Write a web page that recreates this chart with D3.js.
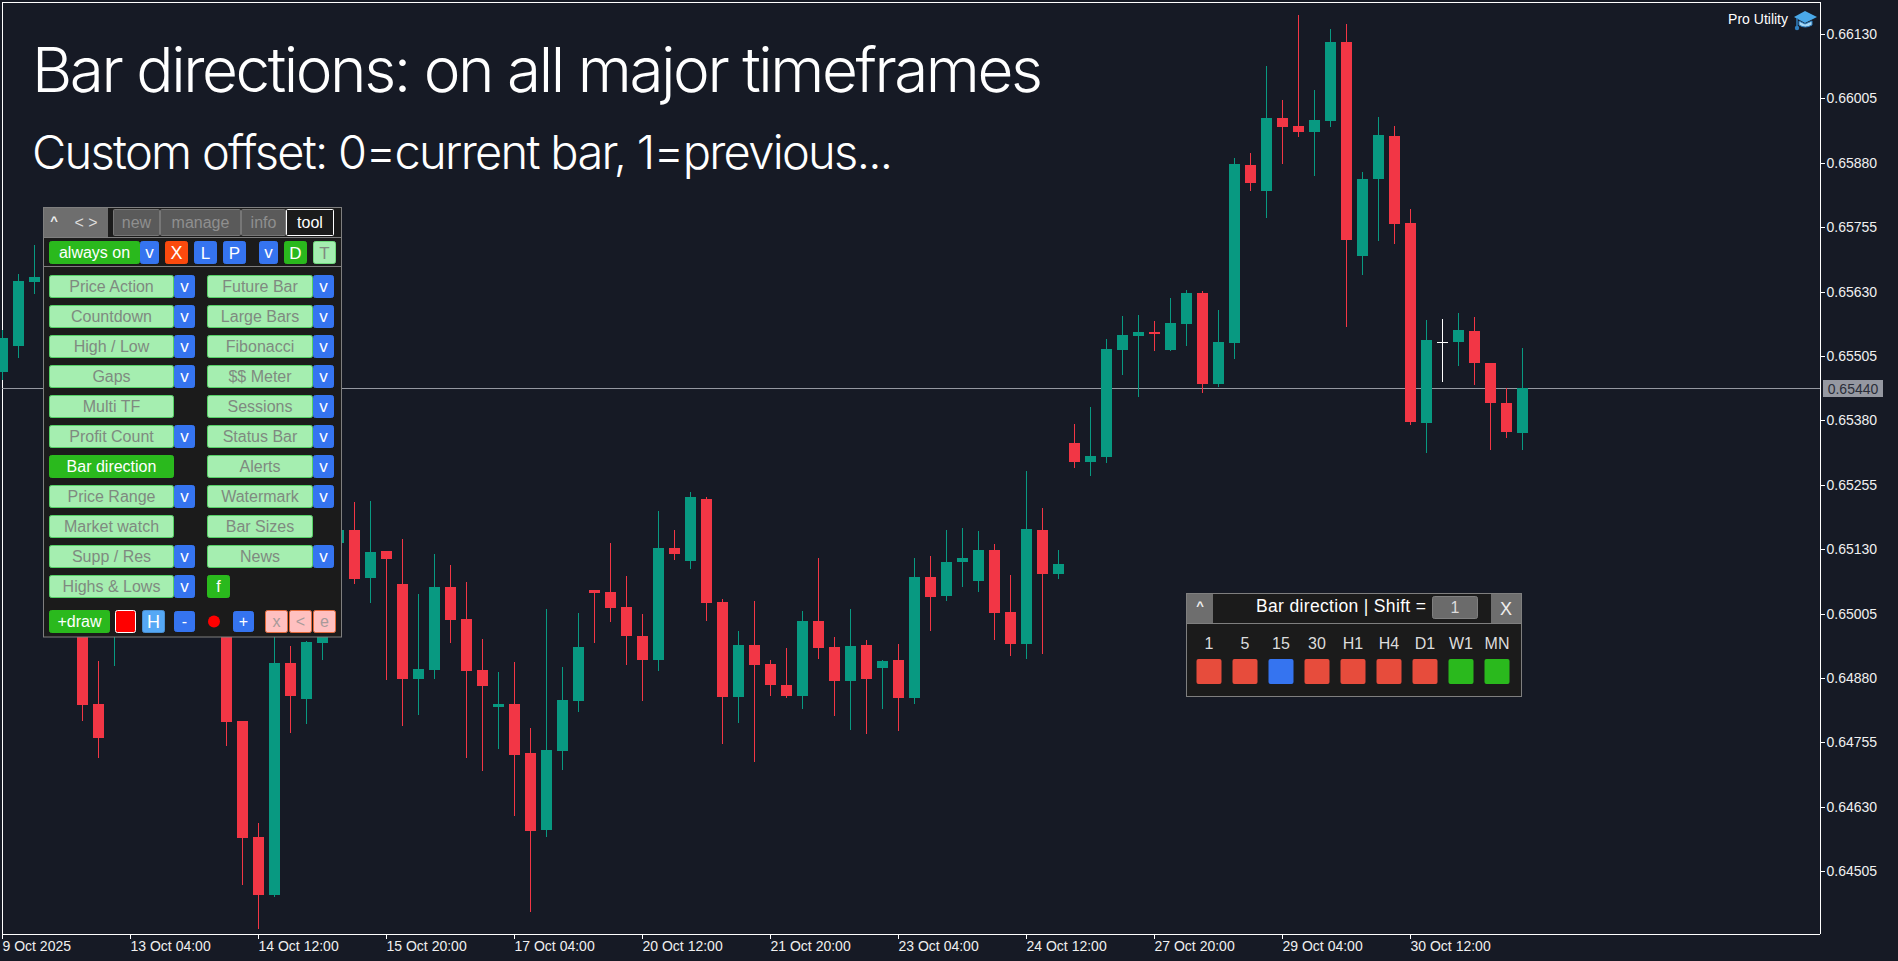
<!DOCTYPE html>
<html>
<head>
<meta charset="utf-8">
<title>Bar directions</title>
<script src="https://cdn.jsdelivr.net/npm/d3@7"></script>
<style>
  html, body { margin: 0; padding: 0; background: #161a25; overflow: hidden; }
  svg { display: block; }
  text { font-family: "Liberation Sans", Arial, sans-serif; }
  .axis path, .axis line { stroke: #fff; shape-rendering: crispEdges; }
  .axis text { fill: #f0f0f0; font-size: 14px; font-family: "Liberation Sans", Arial, sans-serif; }
</style>
</head>
<body>
<svg id="chart" width="1898" height="961"></svg>
<script>
// candles, oldest first. bars 3-14 and 20-21 sit mostly behind the tool panel, so those are guesses
const opens = [0.65474,0.65524,0.65649,0.65643,0.65420,0.65187,0.64830,0.64983,0.65109,0.65226,0.65342,0.65342,0.65420,0.65284,0.65109,0.64797,
0.64571,0.64459,0.64909,0.64839,0.64948,0.65142,0.65167,0.65074,0.65126,0.65062,0.64878,0.64895,0.65057,0.64994,0.64895,0.64824,
0.64830,0.64734,0.64585,0.64738,0.64835,0.65051,0.65047,0.65018,0.64961,0.64915,0.65132,0.65107,0.65227,0.65028,0.64843,0.64944,
0.64907,0.64866,0.64845,0.64991,0.64940,0.64874,0.64944,0.64899,0.64915,0.64841,0.65076,0.65039,0.65105,0.65068,0.65128,0.65008,
0.64946,0.65167,0.65082,0.65336,0.65299,0.65309,0.65517,0.65544,0.65552,0.65517,0.65567,0.65627,0.65451,0.65530,0.65876,0.65825,
0.65967,0.65951,0.65940,0.65961,0.66114,0.65699,0.65849,0.65932,0.65763,0.65375,0.65533,0.65532,0.65553,0.65491,0.65414,0.65355];
const highs = [0.65555,0.65664,0.65720,0.65672,0.65439,0.65226,0.64913,0.65148,0.65264,0.65381,0.65361,0.65458,0.65439,0.65303,0.65148,0.64797,
0.64599,0.64983,0.64942,0.64952,0.65031,0.65264,0.65222,0.65224,0.65126,0.65150,0.65043,0.65121,0.65099,0.65066,0.64956,0.64892,
0.64911,0.64783,0.65014,0.64901,0.65006,0.65051,0.65142,0.65078,0.65004,0.65204,0.65167,0.65241,0.65231,0.65033,0.64971,0.65029,
0.64915,0.64938,0.65010,0.65113,0.64960,0.65014,0.64954,0.64915,0.64946,0.65113,0.65117,0.65167,0.65171,0.65165,0.65140,0.65080,
0.65282,0.65210,0.65128,0.65373,0.65406,0.65538,0.65583,0.65585,0.65573,0.65618,0.65633,0.65631,0.65594,0.65889,0.65899,0.66068,
0.66002,0.66167,0.66021,0.66140,0.66149,0.65862,0.65969,0.65951,0.65790,0.65575,0.65577,0.65588,0.65581,0.65491,0.65443,0.65520];
const lows = [0.65458,0.65501,0.65625,0.65381,0.65148,0.64796,0.64725,0.64903,0.65031,0.65187,0.65226,0.65303,0.65245,0.65051,0.64748,0.64478,
0.64393,0.64455,0.64773,0.64791,0.64915,0.65109,0.65062,0.65026,0.64876,0.64787,0.64808,0.64878,0.64948,0.64725,0.64699,0.64742,
0.64612,0.64426,0.64571,0.64701,0.64814,0.64948,0.64989,0.64905,0.64836,0.64894,0.65109,0.65092,0.64991,0.64752,0.64793,0.64717,
0.64845,0.64841,0.64820,0.64917,0.64806,0.64779,0.64771,0.64820,0.64777,0.64830,0.64971,0.65029,0.65057,0.65047,0.64954,0.64923,
0.64917,0.64927,0.65072,0.65288,0.65272,0.65297,0.65468,0.65425,0.65515,0.65515,0.65524,0.65433,0.65445,0.65499,0.65825,0.65773,
0.65878,0.65930,0.65854,0.65950,0.65561,0.65662,0.65728,0.65722,0.65371,0.65317,0.65454,0.65486,0.65449,0.65322,0.65346,0.65322];
const closes = [0.65540,0.65651,0.65658,0.65420,0.65187,0.64828,0.64764,0.65109,0.65226,0.65342,0.65264,0.65420,0.65284,0.65109,0.64795,0.64569,
0.64459,0.64909,0.64845,0.64950,0.64983,0.65167,0.65072,0.65125,0.65111,0.64878,0.64897,0.65057,0.64993,0.64894,0.64864,0.64830,
0.64730,0.64583,0.64740,0.64837,0.64940,0.65045,0.65016,0.64961,0.64915,0.65132,0.65121,0.65231,0.65026,0.64843,0.64944,0.64905,
0.64866,0.64845,0.64991,0.64938,0.64874,0.64942,0.64878,0.64913,0.64841,0.65076,0.65037,0.65105,0.65113,0.65128,0.65006,0.64946,
0.65169,0.65082,0.65101,0.65299,0.65311,0.65519,0.65546,0.65552,0.65548,0.65569,0.65627,0.65451,0.65532,0.65878,0.65841,0.65967,
0.65950,0.65940,0.65963,0.66114,0.65730,0.65849,0.65934,0.65761,0.65377,0.65536,0.65533,0.65555,0.65491,0.65414,0.65357,0.65443];

const priceTicks = [0.66130,0.66005,0.65880,0.65755,0.65630,0.65505,0.65380,0.65255,0.65130,0.65005,0.64880,0.64755,0.64630,0.64505];
const timeBars = [0,8,16,24,32,40,48,56,64,72,80,88];
const timeLabels = ["9 Oct 2025","13 Oct 04:00","14 Oct 12:00","15 Oct 20:00","17 Oct 04:00","20 Oct 12:00","21 Oct 20:00","23 Oct 04:00","24 Oct 12:00","27 Oct 20:00","29 Oct 04:00","30 Oct 12:00"];
const currentPrice = 0.65440;

const titleText = "Bar directions: on all major timeframes";
const subtitleText = "Custom offset: 0=current bar, 1=previous...";

const tabs = ["new","manage","info","tool"];
const leftMenu = ["Price Action","Countdown","High / Low","Gaps","Multi TF","Profit Count","Bar direction","Price Range","Market watch","Supp / Res","Highs & Lows"];
const leftHasArrow = [1,1,1,1,0,1,0,1,0,1,1];
const rightMenu = ["Future Bar","Large Bars","Fibonacci","$$ Meter","Sessions","Status Bar","Alerts","Watermark","Bar Sizes","News"];
const rightHasArrow = [1,1,1,1,1,1,1,1,0,1];

const timeframes = ["1","5","15","30","H1","H4","D1","W1","MN"];
const directions = ["down","down","flat","down","down","down","down","up","up"];

const svg = d3.select("#chart");
const up = "#089981", down = "#f23645", bg = "#161a25";
const blue = "#3574f0", green = "#2ab91d", mint = "#a5eeb0", greyText = "#7f8a80";

svg.append("rect").attr("width", 1898).attr("height", 961).attr("fill", bg);

const frame = { left: 2, right: 1820, top: 2, bottom: 934 };

const x = d3.scaleLinear().domain([0, 95]).range([2, 1522]);
const y = d3.scaleLinear().domain([0.66130, 0.64505]).range([34, 871.2]);

// frame
svg.append("path")
  .attr("d", `M${frame.left + .5},${frame.bottom + .5}V${frame.top + .5}H${frame.right + .5}`)
  .attr("fill", "none").attr("stroke", "#fff").attr("shape-rendering", "crispEdges");

// axes
const yAxis = d3.axisRight(y).tickValues(priceTicks).tickFormat(d3.format(".5f")).tickSize(4).tickPadding(2);
svg.append("g").attr("class", "axis").attr("transform", `translate(${frame.right + .5},0)`).call(yAxis)
  .call(g => g.select(".domain").attr("d", `M0,${frame.top}V${frame.bottom}`));

const xAxis = d3.axisBottom(x).tickValues(timeBars).tickFormat((d, i) => timeLabels[i]).tickSize(4).tickPadding(3);
svg.append("g").attr("class", "axis").attr("transform", `translate(0,${frame.bottom + .5})`).call(xAxis)
  .call(g => g.select(".domain").attr("d", `M${frame.left},0H${frame.right}`))
  .call(g => g.selectAll("text").attr("text-anchor", "start").attr("x", 0));

// current price, the platform draws it a pixel above the scale
const priceY = Math.floor(y(currentPrice)) - 1;
svg.append("line")
  .attr("x1", frame.left).attr("x2", frame.right)
  .attr("y1", priceY + .5).attr("y2", priceY + .5)
  .attr("stroke", "#9598a1").attr("shape-rendering", "crispEdges");
svg.append("rect")
  .attr("x", 1823).attr("y", priceY - 8).attr("width", 60).attr("height", 17)
  .attr("fill", "#9598a1");
svg.append("text")
  .attr("x", 1853).attr("y", priceY + 5.5).attr("text-anchor", "middle")
  .attr("font-size", 14).attr("fill", "#2a2e39")
  .text(d3.format(".5f")(currentPrice));

// candles
const bars = d3.range(opens.length);
const colorOf = i => closes[i] > opens[i] ? up : closes[i] < opens[i] ? down : "#fff";
const candles = svg.append("g").attr("shape-rendering", "crispEdges");
candles.selectAll(".wick").data(bars).enter().append("line")
  .attr("class", "wick")
  .attr("x1", i => x(i) + .5).attr("x2", i => x(i) + .5)
  .attr("y1", i => y(highs[i])).attr("y2", i => y(lows[i]))
  .attr("stroke", colorOf);
candles.selectAll(".body").data(bars).enter().append("rect")
  .attr("class", "body")
  .attr("x", i => x(i) - 5).attr("width", 11)
  .attr("y", i => y(Math.max(opens[i], closes[i])))
  .attr("height", i => Math.max(1, y(Math.min(opens[i], closes[i])) - y(Math.max(opens[i], closes[i]))))
  .attr("fill", colorOf);

// title
svg.append("text").attr("x", 32).attr("y", 92)
  .attr("font-size", 62).attr("fill", "#fff").attr("textLength", 1011).attr("lengthAdjust", "spacing")
  .style("font-family", "Inter").style("font-weight", 300).text(titleText);
svg.append("text").attr("x", 32).attr("y", 169)
  .attr("font-size", 47).attr("fill", "#fff").attr("textLength", 861).attr("lengthAdjust", "spacing")
  .style("font-family", "Inter").style("font-weight", 300).text(subtitleText);

// watermark top right
svg.append("text").attr("x", 1788).attr("y", 24).attr("text-anchor", "end")
  .attr("font-size", 14).attr("fill", "#fff").text("Pro Utility");
const cap = svg.append("g").attr("transform", "translate(1794,10)");
cap.append("path").attr("d", "M11,1 L23,7 L11,13 L0,7 Z").attr("fill", "#4aa8e8");
cap.append("path").attr("d", "M5,11 L11,14 L18,11 V15 Q11,19 5,15 Z").attr("fill", "#a8d8f4").attr("stroke", "#2f7fc0");
cap.append("line").attr("x1", 3).attr("y1", 8).attr("x2", 3).attr("y2", 17).attr("stroke", "#2f7fc0").attr("stroke-width", 1.5);
cap.append("circle").attr("cx", 3).attr("cy", 18).attr("r", 2.2).attr("fill", "#2f7fc0");

// one control of a panel
function button(parent, bx, by, w, h, label, fill, color, opts = {}) {
  const g = parent.append("g");
  g.append("rect").attr("x", bx + .5).attr("y", by + .5).attr("width", w - 1).attr("height", h - 1)
    .attr("rx", opts.rx === undefined ? 2 : opts.rx)
    .attr("fill", fill).attr("stroke", opts.stroke || fill);
  if (label !== "") {
    g.append("text").attr("x", bx + w / 2).attr("y", by + h / 2 + (opts.dy === undefined ? 5.5 : opts.dy))
      .attr("text-anchor", "middle").attr("font-size", opts.size || 16).attr("fill", color)
      .style("font-weight", opts.weight || 400).text(label);
  }
  return g;
}

// tool panel
const tool = svg.append("g");
tool.append("rect").attr("x", 43.5).attr("y", 207.5).attr("width", 298).attr("height", 429.5)
  .attr("fill", "#1b1b1b").attr("stroke", "#7f7f7f");
button(tool, 44, 208, 20, 29, "^", "#6e6e6e", "#eee", { rx: 0, size: 13, weight: 700, dy: 2 });
button(tool, 64, 208, 44, 29, "< >", "#6e6e6e", "#ddd", { rx: 0, size: 16, dy: 5 });
tool.append("line").attr("x1", 44).attr("x2", 341).attr("y1", 237.5).attr("y2", 237.5).attr("stroke", "#7f7f7f");
tool.append("line").attr("x1", 44).attr("x2", 341).attr("y1", 266.5).attr("y2", 266.5).attr("stroke", "#7f7f7f");

const tabX = [113, 160, 241, 286], tabW = [47, 81, 45, 48];
tabs.forEach((t, i) => {
  const active = t === "tool";
  button(tool, tabX[i], 209, tabW[i], 27, t, active ? "#1b1b1b" : "#5a5a5a", active ? "#fff" : "#8f8f8f",
    { stroke: active ? "#fff" : "#777", rx: 1 });
});

button(tool, 49, 241, 91, 23, "always on", green, "#fff");
button(tool, 140, 241, 19, 23, "v", blue, "#fff", { size: 17, dy: 5 });
button(tool, 165, 241, 23, 23, "X", "#fb4a0e", "#fff", { size: 18, dy: 6 });
button(tool, 194, 241, 23, 23, "L", blue, "#fff", { size: 17, dy: 6 });
button(tool, 223, 241, 23, 23, "P", blue, "#fff", { size: 17, dy: 6 });
button(tool, 259, 241, 19, 23, "v", blue, "#fff", { size: 17, dy: 5 });
button(tool, 284, 241, 23, 23, "D", green, "#fff", { size: 17, dy: 6 });
button(tool, 313, 241, 23, 23, "T", mint, greyText, { stroke: "#6fdc7c", size: 17, dy: 6 });

const rowTop = i => 275 + i * 30;
leftMenu.forEach((label, i) => {
  const on = label === "Bar direction";
  button(tool, 49, rowTop(i), 125, 23, label, on ? green : mint, on ? "#fff" : greyText, { stroke: on ? green : "#55d266" });
  if (leftHasArrow[i]) button(tool, 174, rowTop(i), 21, 23, "v", blue, "#fff", { size: 17, dy: 5 });
});
rightMenu.forEach((label, i) => {
  button(tool, 207, rowTop(i), 106, 23, label, mint, greyText, { stroke: "#55d266" });
  if (rightHasArrow[i]) button(tool, 313, rowTop(i), 21, 23, "v", blue, "#fff", { size: 17, dy: 5 });
});
button(tool, 207, rowTop(10), 23, 23, "f", green, "#fff");

button(tool, 49, 610, 61, 23, "+draw", green, "#fff");
button(tool, 115, 610, 21, 23, "", "#ff0000", "#fff", { stroke: "#fff" });
button(tool, 142, 610, 23, 23, "H", "#55a8f5", "#fff", { stroke: "#4a8fd0", size: 18, dy: 6 });
button(tool, 174, 611, 21, 21, "-", blue, "#fff");
tool.append("circle").attr("cx", 214).attr("cy", 621.5).attr("r", 6).attr("fill", "#ff0000");
button(tool, 233, 611, 21, 21, "+", blue, "#fff");
["x", "<", "e"].forEach((t, i) => {
  button(tool, [265, 289, 313][i], 610, 23, 23, t, "#ffc0c0", "#a89a9a", { stroke: "#e2693a" });
});

// bar direction panel
const dirColor = { down: "#e74c3c", flat: blue, up: green };
const dirPanel = svg.append("g");
dirPanel.append("rect").attr("x", 1186.5).attr("y", 593.5).attr("width", 335).attr("height", 103)
  .attr("fill", "#1b1b1b").attr("stroke", "#7f7f7f");
button(dirPanel, 1187, 594, 26, 29, "^", "#6e6e6e", "#eee", { rx: 0, size: 13, weight: 700, dy: 1 });
button(dirPanel, 1491, 594, 30, 29, "X", "#6e6e6e", "#eee", { rx: 0, size: 18, dy: 6 });
dirPanel.append("line").attr("x1", 1187).attr("x2", 1521).attr("y1", 623.5).attr("y2", 623.5).attr("stroke", "#7f7f7f");
dirPanel.append("text").attr("x", 1256).attr("y", 612).attr("font-size", 17.5).attr("fill", "#fff")
  .attr("textLength", 170).text("Bar direction | Shift =");
button(dirPanel, 1432, 596, 46, 23, "1", "#6b6b6b", "#ddd", { stroke: "#808080" });

const tfX = d3.scaleBand().domain(timeframes).range([1191, 1515]);
dirPanel.selectAll(".tf").data(timeframes).enter().append("text")
  .attr("class", "tf")
  .attr("x", d => tfX(d) + tfX.bandwidth() / 2).attr("y", 648.5).attr("text-anchor", "middle")
  .attr("font-size", 16).attr("fill", "#ddd").text(d => d);
dirPanel.selectAll(".cell").data(timeframes).enter().append("rect")
  .attr("class", "cell")
  .attr("x", d => tfX(d) + tfX.bandwidth() / 2 - 12.5).attr("y", 659).attr("width", 25).attr("height", 25).attr("rx", 2)
  .attr("fill", (d, i) => dirColor[directions[i]]);
</script>
</body>
</html>
